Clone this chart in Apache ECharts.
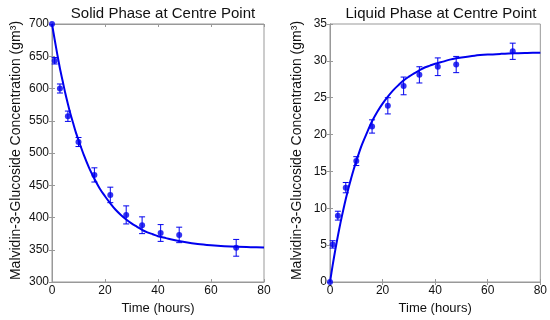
<!DOCTYPE html>
<html><head><meta charset="utf-8">
<script src="https://cdn.jsdelivr.net/npm/echarts@6/dist/echarts.min.js"></script>
<style>html,body{margin:0;padding:0;background:#fff}#c{width:550px;height:320px}</style>
</head><body><div id="c"></div>
<script>
// ---- data ----
const solidTime  = [0, 1, 3, 6, 10, 16, 22, 28, 34, 41, 48, 69.5];
const solidValue = [700, 643, 600, 557, 517, 466, 435, 404, 388, 376, 373, 353];
const solidErr   = [0, 5, 7, 8, 7, 11, 12, 14, 13, 13, 12, 13];
const solidFitT  = [0, 1, 2, 3, 4, 5, 6, 7, 8, 9, 10, 12, 14, 16, 18, 20, 22, 24, 26, 28, 30, 32, 34, 36, 38, 40, 43, 46, 50, 55, 60, 65, 70, 75, 80];
const solidFitV  = [700, 676, 653, 631, 612, 593, 576, 560, 546, 532, 520, 497, 477, 460, 445, 433, 422, 412, 404, 397, 391, 386, 381, 377, 374, 371, 368, 365, 362, 359, 357, 355.5, 354.5, 354, 353.5];

const liquidTime  = [0, 1, 3, 6, 10, 16, 22, 28, 34, 41, 48, 69.5];
const liquidValue = [0, 5.1, 9.0, 12.8, 16.4, 21.1, 23.9, 26.6, 28.1, 29.2, 29.5, 31.3];
const liquidErr   = [0, 0.5, 0.6, 0.7, 0.6, 0.9, 1.1, 1.2, 1.1, 1.2, 1.1, 1.1];
const liquidFitT  = [0, 1, 2, 3, 4, 5, 6, 7, 8, 9, 10, 12, 14, 16, 18, 20, 22, 24, 26, 28, 30, 32, 34, 36, 38, 40, 43, 46, 50, 55, 60, 65, 70, 75, 80];
const liquidFitV  = [0, 2.25, 4.33, 6.25, 8.05, 9.7, 11.26, 12.7, 14.0, 15.25, 16.4, 18.5, 20.2, 21.8, 23.1, 24.2, 25.15, 26.0, 26.7, 27.35, 27.85, 28.3, 28.7, 29.1, 29.35, 29.6, 29.9, 30.2, 30.45, 30.7, 30.85, 30.95, 31.03, 31.07, 31.1];

const xTicks = { min: 0, max: 80, interval: 20 };
const solidY = { min: 300, max: 700, interval: 50 };
const liquidY = { min: 0, max: 35, interval: 5 };

const titles = ['Solid Phase at Centre Point', 'Liquid Phase at Centre Point'];
const xName = 'Time (hours)';
const yName = 'Malvidin-3-Glucoside Concentration (gm\u00B3)';

// ---- chart ----
const BLUE = '#0000ee';
const FONT = 'Liberation Sans, Arial, sans-serif';
const zip = (a, b) => a.map((v, i) => [v, b[i]]);
const errData = (t, v, e) => t.map((x, i) => [x, v[i] - e[i], v[i] + e[i]]);

function errSeries(xi, yi, data) {
  return {
    type: 'custom', xAxisIndex: xi, yAxisIndex: yi, data: data, z: 3,
    renderItem: function (params, api) {
      const x = api.value(0);
      const lo = api.coord([x, api.value(1)]);
      const hi = api.coord([x, api.value(2)]);
      if (Math.abs(hi[1] - lo[1]) < 0.5) return null;
      const w = 3;
      const st = { stroke: BLUE, lineWidth: 1 };
      return { type: 'group', children: [
        { type: 'line', shape: { x1: lo[0], y1: lo[1], x2: hi[0], y2: hi[1] }, style: st },
        { type: 'line', shape: { x1: lo[0] - w, y1: lo[1], x2: lo[0] + w, y2: lo[1] }, style: st },
        { type: 'line', shape: { x1: hi[0] - w, y1: hi[1], x2: hi[0] + w, y2: hi[1] }, style: st }
      ]};
    }
  };
}

const grids = [
  { left: 52, top: 24, width: 212, height: 258, show: true, borderColor: '#999', borderWidth: 1, backgroundColor: '#fff' },
  { left: 330, top: 24, width: 212, height: 258, show: true, borderColor: '#999', borderWidth: 1, backgroundColor: '#fff' }
];

function xAx(gi, main) {
  return {
    type: 'value', gridIndex: gi, position: main ? 'bottom' : 'top',
    min: xTicks.min, max: xTicks.max, interval: xTicks.interval,
    name: main ? xName : '', nameLocation: 'middle', nameGap: 20,
    nameTextStyle: { fontFamily: FONT, fontSize: 13, color: '#111' },
    axisLine: { show: true, lineStyle: { color: '#999' } },
    axisTick: { show: true, inside: true, length: 3, lineStyle: { color: '#999' } },
    axisLabel: { show: main, fontFamily: FONT, fontSize: 12, color: '#111', margin: 3 },
    splitLine: { show: false }
  };
}
function yAx(gi, main, r, gap) {
  return {
    type: 'value', gridIndex: gi, position: main ? 'left' : 'right',
    min: r.min, max: r.max, interval: r.interval,
    name: main ? yName : '', nameLocation: 'middle', nameGap: gap, nameRotate: 90,
    nameTextStyle: { fontFamily: FONT, fontSize: 14, color: '#111', padding: [0, 0, 0, 5] },
    axisLine: { show: true, lineStyle: { color: '#999' } },
    axisTick: { show: true, inside: true, length: 3, lineStyle: { color: '#999' } },
    axisLabel: { show: main, fontFamily: FONT, fontSize: 12, color: '#111', margin: 3 },
    splitLine: { show: false }
  };
}

const option = {
  animation: false,
  backgroundColor: '#fff',
  title: [
    { text: titles[0], left: 158, top: 1, textAlign: 'center', textStyle: { fontFamily: FONT, fontSize: 15, fontWeight: 'normal', color: '#111' } },
    { text: titles[1], left: 436, top: 1, textAlign: 'center', textStyle: { fontFamily: FONT, fontSize: 15, fontWeight: 'normal', color: '#111' } }
  ],
  grid: grids,
  xAxis: [xAx(0, true), xAx(1, true), xAx(0, false), xAx(1, false)],
  yAxis: [yAx(0, true, solidY, 29), yAx(1, true, liquidY, 26), yAx(0, false, solidY, 0), yAx(1, false, liquidY, 0)],
  series: [
    { type: 'line', xAxisIndex: 0, yAxisIndex: 0, data: zip(solidFitT, solidFitV), smooth: 0.3, showSymbol: false, lineStyle: { color: BLUE, width: 2 }, z: 2 },
    errSeries(0, 0, errData(solidTime, solidValue, solidErr)),
    { type: 'scatter', xAxisIndex: 0, yAxisIndex: 0, data: zip(solidTime, solidValue), symbol: 'circle', symbolSize: 6, itemStyle: { color: BLUE }, z: 4 },
    { type: 'line', xAxisIndex: 1, yAxisIndex: 1, data: zip(liquidFitT, liquidFitV), smooth: 0.3, showSymbol: false, lineStyle: { color: BLUE, width: 2 }, z: 2 },
    errSeries(1, 1, errData(liquidTime, liquidValue, liquidErr)),
    { type: 'scatter', xAxisIndex: 1, yAxisIndex: 1, data: zip(liquidTime, liquidValue), symbol: 'circle', symbolSize: 6, itemStyle: { color: BLUE }, z: 4 }
  ]
};
echarts.init(document.getElementById('c'), null, { renderer: 'canvas' }).setOption(option);
</script>
</body></html>
